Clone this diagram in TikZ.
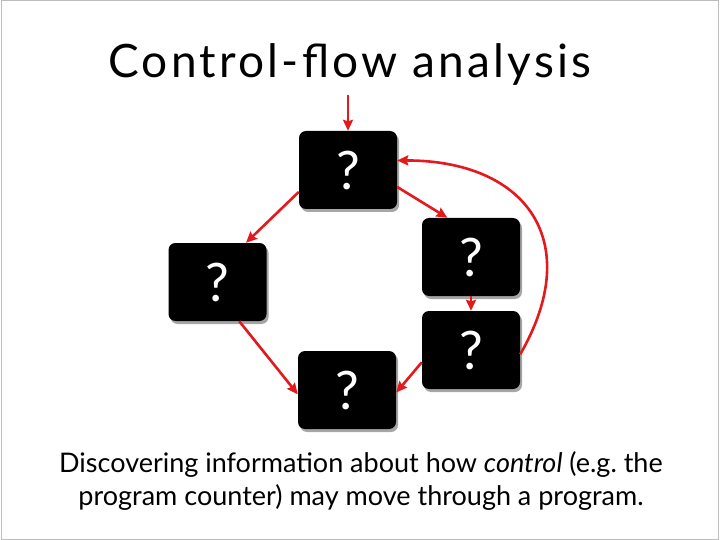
\documentclass[tikz,border=0pt]{standalone}
\usepackage{fontspec}
\setmainfont{Lato}
\usetikzlibrary{arrows.meta,shadows}
\definecolor{Flow}{HTML}{E4191B}
\definecolor{Frame}{HTML}{BDBDBD}
\begin{document}
\begin{tikzpicture}[x=1pt,y=-1pt,>={Stealth[length=11pt,width=10pt,inset=1.5pt]},
    block/.style={fill=black,rounded corners=7pt,minimum width=98pt,minimum height=78pt,text=white,font=\fontsize{53}{53}\selectfont,drop shadow={shadow xshift=2pt,shadow yshift=-3pt,fill=black,opacity=0.35}},
    flow/.style={->,Flow,line width=2.6pt}]
    \useasboundingbox (0,0) rectangle (720,540);
    \draw[Frame,line width=1.5pt] (1.5,0.75) rectangle (718.5,539.25);
    \node[anchor=base,font=\fontsize{46}{46}\selectfont\addfontfeature{LetterSpace=7}] (title) at (350,78) {Control-flow analysis};
    % basic blocks
    \node[block] (a) at (348,170) {?};
    \node[block] (b) at (217.5,282) {?};
    \node[block] (c) at (471,257) {?};
    \node[block] (d) at (471,350) {?};
    \node[block] (e) at (347,390) {?};
    \coordinate (entry) at (348,95);
    % edges
    \draw[flow] (entry)--(a.north);
    \draw[flow] (a.204)--(b.54);\draw[flow] (a.341)--(c.121);
    \draw[flow] (c.south)--(d.north);
    \draw[flow] (b.299)--(e.185);\draw[flow] (d.194)--(e.357);
    \draw[flow] (d.355) to[out=60,in=0,looseness=1.45] (a.11);
    \node[align=center,font=\fontsize{27}{33}\selectfont] (caption) at (361,481) {Discovering information about how \textit{control} (e.g.\ the\\program counter) may move through a program.};
\end{tikzpicture}
\end{document}
